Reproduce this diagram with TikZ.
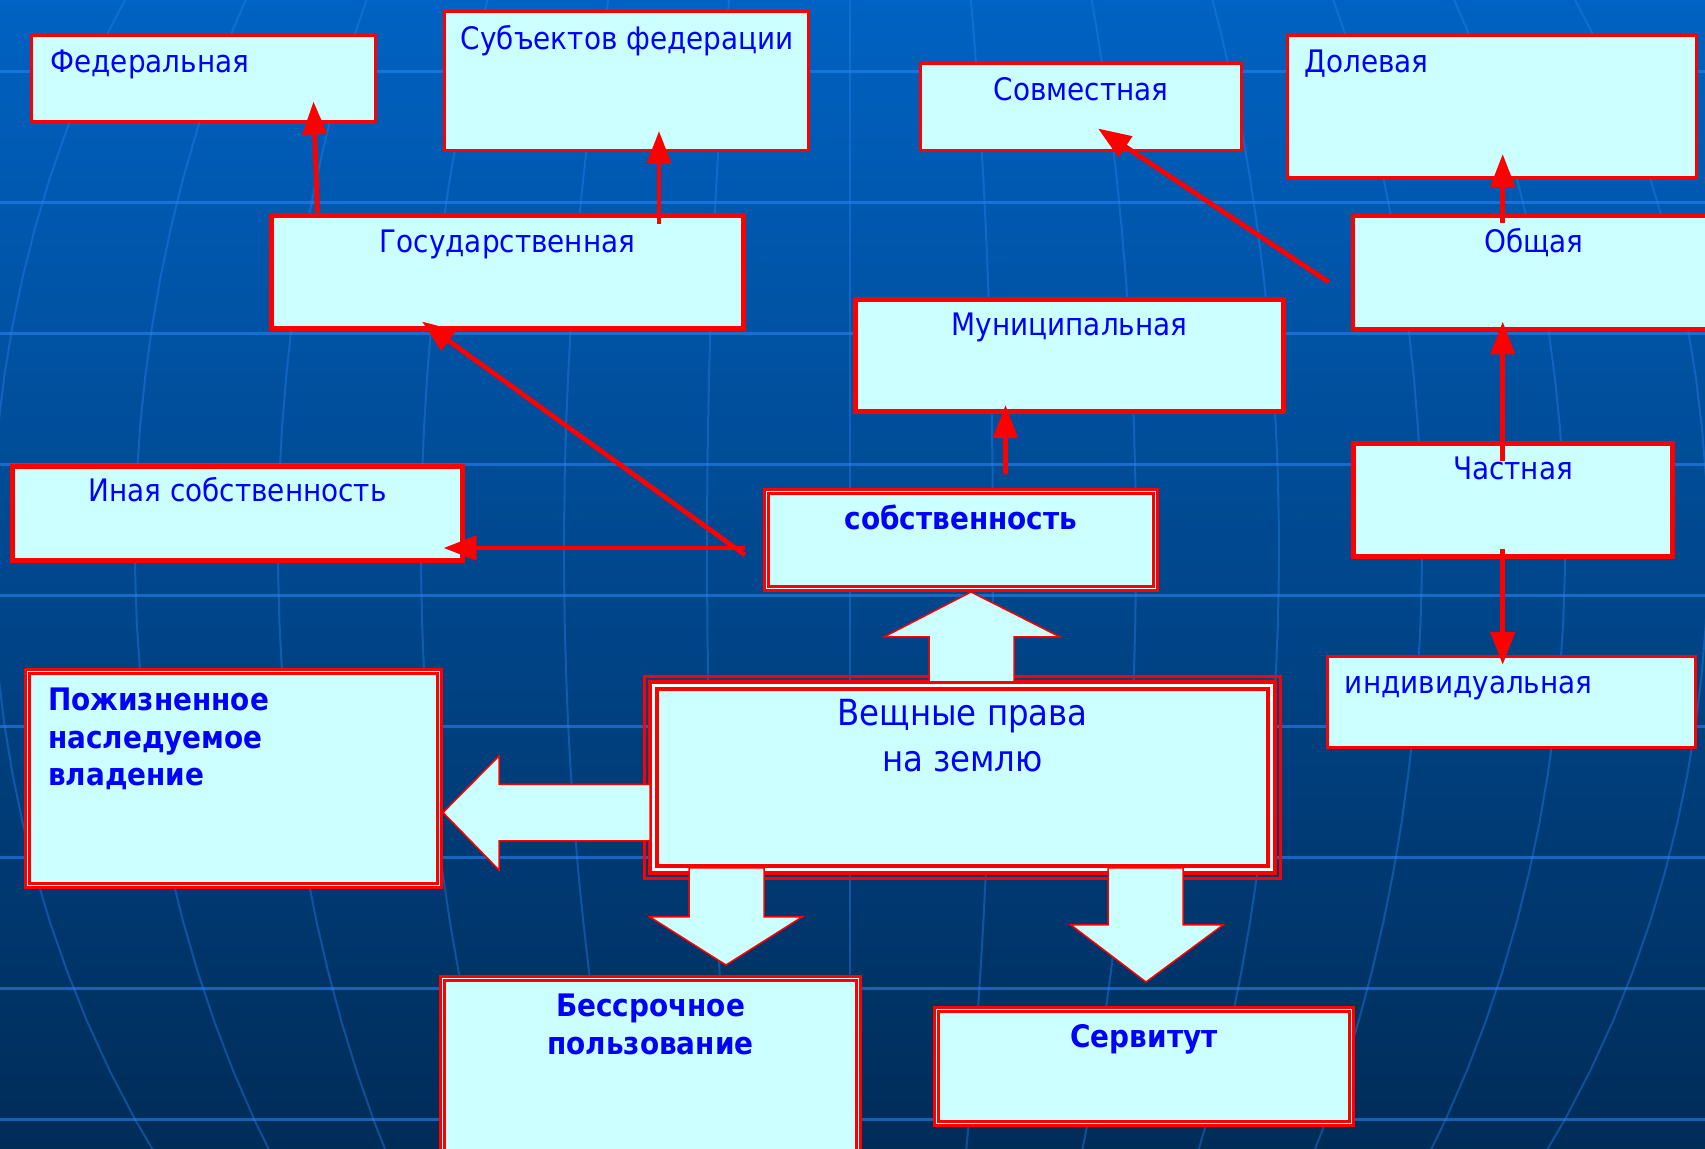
\documentclass[tikz,border=0pt]{standalone}
\usepackage{fontspec}
\setmainfont{DejaVu Sans}[FakeStretch=0.9]
\usetikzlibrary{arrows.meta,fit}

\definecolor{boxfill}{RGB}{204,255,255}
\definecolor{inkblue}{RGB}{0,0,255}
\definecolor{bgtop}{RGB}{0,98,194}
\definecolor{bgbot}{RGB}{0,44,88}
\definecolor{gridline}{RGB}{40,130,240}

\begin{document}
\begin{tikzpicture}[x=0.5pt,y=-0.5pt,
    box/.style={rectangle, fill=boxfill, draw=red, inner sep=0pt, outer sep=0pt},
    thinbox/.style={box, line width=1.5pt},
    midbox/.style={box, line width=1.75pt},
    thickbox/.style={box, line width=2.5pt},
    dblbox/.style={box, line width=1.25pt, double=white, double distance=0.85pt},
    txt/.style={text=inkblue, inner sep=0pt, font=\fontsize{15.5pt}{18.75pt}\selectfont},
    btxt/.style={txt, font=\fontsize{15.5pt}{18.75pt}\selectfont\bfseries},
    arr/.style={red, line width=2.4pt, -{Triangle[length=16.5pt,width=12pt]}},
    blockarr/.style={fill=boxfill, draw=red, line width=0.75pt, line join=miter}]

  % background with grid
  \useasboundingbox (0,0) rectangle (1705,1149);
  \clip (0,0) rectangle (1705,1149);
  \shade[top color=bgtop, bottom color=bgbot] (0,0) rectangle (1705,1149);
  \foreach \k in {-6,...,6}
    \draw[gridline, line width=1pt, opacity=.4] plot[domain=-20:1170, samples=25, variable=\t]
      ({850+143*\k*sqrt(1-((\t-550)/1030)^2)}, \t);
  \foreach \k in {0,...,8}
    \draw[gridline, line width=1.5pt, opacity=.6] (0,72+131*\k) -- (1705,72+131*\k);

  % boxes
  \node[thinbox, fit={(31.5,35.5) (375.5,121.5)}] (fed) {};
  \node[thinbox, fit={(444.5,11.5) (808.5,150.5)}] (subj) {};
  \node[thickbox, fit={(271.5,215.5) (743.5,328.5)}] (gos) {};
  \node[thinbox, fit={(920.5,63.5) (1241.5,150.5)}] (sovm) {};
  \node[thinbox, fit={(1287.5,35.5) (1696.5,177.5)}] (dol) {};
  \node[midbox, fit={(1353,216) (1715,329)}] (obsh) {};
  \node[thickbox, fit={(855.5,299.5) (1283.5,411.5)}] (mun) {};
  \node[thickbox, fit={(12.5,466.5) (462.5,560.5)}] (ina) {};
  \node[thickbox, fit={(1353.5,443.5) (1672.5,556.5)}] (chast) {};
  \node[dblbox, fit={(766.4,491.4) (1155.6,588.6)}] (sobst) {};
  \node[thinbox, fit={(1327.5,656.5) (1695.5,747.5)}] (indiv) {};
  \node[dblbox, fit={(27.4,671.4) (439.6,885.6)}] (pozh) {};
  \node[dblbox, line width=2pt, double distance=1.5pt, fit={(653.5,685.5) (1271.5,869.5)}] (vesh) {};
  \draw[red, line width=1.5pt] ([shift={(-9,-9)}]vesh.north west) rectangle ([shift={(9,9)}]vesh.south east);
  \node[dblbox, fit={(442.4,978.4) (858.6,1170)}] (bessr) {};
  \node[dblbox, fit={(936.4,1009.4) (1351.6,1123.6)}] (serv) {};

  % texts
  \node[txt, anchor=base west] (fedT) at ([shift={(18.5,37.2)}]fed.north west) {Федеральная};
  \node[txt, anchor=base west] (subjT) at ([shift={(16,38.3)}]subj.north west) {Субъектов федерации};
  \node[txt, anchor=base] (gosT) at ([shift={(0,37)}]gos.north) {Государственная};
  \node[txt, anchor=base] (sovmT) at ([shift={(0,36.8)}]sovm.north) {Совместная};
  \node[txt, anchor=base west] (dolT) at ([shift={(16.5,37.2)}]dol.north west) {Долевая};
  \node[txt, anchor=base] (obshT) at ([shift={(0,36.6)}]obsh.north) {Общая};
  \node[txt, anchor=base] (munT) at ([shift={(0,36.5)}]mun.north) {Муниципальная};
  \node[txt, anchor=base] (inaT) at ([shift={(0,35.5)}]ina.north) {Иная собственность};
  \node[txt, anchor=base] (chastT) at ([shift={(0,36)}]chast.north) {Частная};
  \node[btxt, anchor=base] (sobstT) at ([shift={(0,38.6)}]sobst.north) {собственность};
  \node[txt, anchor=base west] (indivT) at ([shift={(17,37.3)}]indiv.north west) {индивидуальная};
  % base of a multi-line node is its last line
  \node[btxt, anchor=base west, align=left] (pozhT) at ([shift={(20.3,114.6)}]pozh.north west)
    {Пожизненное\\наследуемое\\владение};
  \node[txt, anchor=base, align=center, font=\fontsize{18pt}{22.8pt}\selectfont] (veshT)
    at ([shift={(0,86.1)}]vesh.north) {Вещные права\\на землю};
  \node[btxt, anchor=base, align=center] (bessrT) at ([shift={(0,75.8)}]bessr.north)
    {Бессрочное\\пользование};
  \node[btxt, anchor=base] (servT) at ([shift={(0,38.6)}]serv.north) {Сервитут};

  % red arrows
  \draw[arr] ([shift={(46,-3)}]gos.north west) -- ([shift={(282,66)}]fed.north west);
  \draw[arr] ([shift={(387.5,8.5)}]gos.north west) -- ([shift={(214.5,119.5)}]subj.north west);
  \draw[arr] ([shift={(-21.4,63.6)}]sobst.north west) -- ([shift={(150.5,106)}]gos.north west);
  \draw[arr] ([shift={(-21.4,56.6)}]sobst.north west) -- ([shift={(431,81.5)}]ina.north west);
  \draw[arr] ([shift={(239,-17)}]sobst.north west) -- ([shift={(150,105.5)}]mun.north west);
  \draw[arr] ([shift={(-24.3,66)}]obsh.north west) -- ([shift={(177.5,65)}]sovm.north west);
  \draw[arr] ([shift={(149.7,7)}]obsh.north west) -- ([shift={(215.2,118.5)}]dol.north west);
  \draw[arr] ([shift={(149.2,17.5)}]chast.north west) -- ([shift={(149.7,105.5)}]obsh.north west);
  \draw[arr] ([shift={(149.2,105.5)}]chast.north west) -- ([shift={(175.2,8.3)}]indiv.north west);

  % block arrows
  \draw[blockarr] (929,682) -- (929,637) -- (884,637) -- (971,592) -- (1060,637) -- (1014,637) -- (1014,682) -- cycle;
  \draw[blockarr] (650,784.5) -- (499,784.5) -- (499,756) -- (443,812.5) -- (499,870) -- (499,841) -- (650,841) -- cycle;
  \draw[blockarr] (689,868) -- (689,917) -- (650,917) -- (726,965) -- (802,917) -- (764,917) -- (764,868) -- cycle;
  \draw[blockarr] (1108,868) -- (1108,925) -- (1071,925) -- (1146,982) -- (1223,925) -- (1183,925) -- (1183,868) -- cycle;
\end{tikzpicture}
\end{document}
